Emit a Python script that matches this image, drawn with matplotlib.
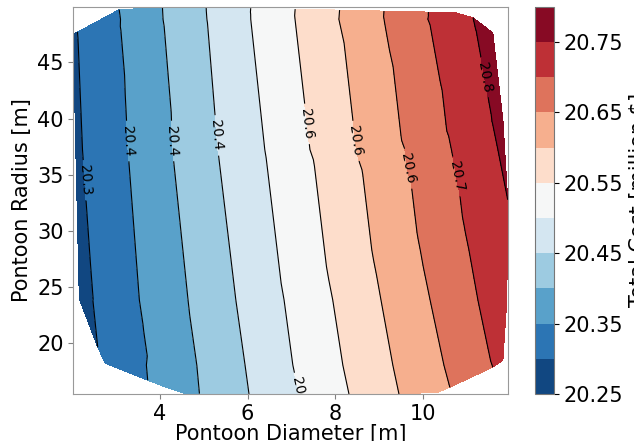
import numpy as np
import matplotlib
matplotlib.use("Agg")
import matplotlib.pyplot as plt
import matplotlib.tri as mtri

# ---- data (scattered design samples) ----
# Contour levels of the filled plot
levels = [20.25, 20.30, 20.35, 20.40, 20.45, 20.50, 20.55, 20.60, 20.65, 20.70, 20.75, 20.80]
cbar_ticks = [20.25, 20.35, 20.45, 20.55, 20.65, 20.75]

# Boundary samples (pontoon diameter, pontoon radius, total cost)
hull_x = [2.023, 3.07, 4.59, 10.73, 11.14, 11.59, 11.82, 11.93, 11.91, 11.82, 11.59,
          10.61, 10.34, 9.45, 8.31, 7.17, 6.03, 4.90, 4.55, 4.14, 3.72, 2.75, 2.58, 2.16, 2.08]
hull_y = [47.5, 49.70, 49.96, 49.43, 48.97, 47.63, 39.91, 32.77, 23.84, 18.48, 17.86,
          16.07, 15.63, 15.47, 15.47, 15.47, 15.47, 15.50, 15.54, 16.07, 16.70, 18.21, 19.64, 23.93, 37.23]
hull_z = [20.295, 20.35, 20.427, 20.73, 20.75, 20.768, 20.762, 20.75, 20.73, 20.713, 20.70,
          20.65, 20.64, 20.60, 20.55, 20.50, 20.45, 20.40, 20.385, 20.368, 20.35, 20.308, 20.30, 20.285, 20.293]

# Interior samples, row near the top (radius 48.8 m)
top_x = [3.10, 4.07, 5.07, 6.07, 7.08, 8.08, 9.11, 10.11]
top_y = [48.84] * 8
top_z = [20.35, 20.40, 20.45, 20.50, 20.55, 20.60, 20.65, 20.70]

# Interior samples, radius 37.2 m
upper_x = [2.233, 3.27, 4.285, 5.32, 6.39, 7.42, 8.48, 9.586, 10.646, 11.706]
upper_y = [37.23] * 10
upper_z = [20.30, 20.35, 20.40, 20.45, 20.50, 20.55, 20.60, 20.65, 20.70, 20.75]

# Interior samples, radius 23.8 m
lower_x = [2.47, 3.53, 4.64, 5.73, 6.83, 7.94, 9.04, 10.16, 11.25]
lower_y = [23.84] * 9
lower_z = [20.30, 20.35, 20.40, 20.45, 20.50, 20.55, 20.60, 20.65, 20.70]

# Interior samples, radius 18.0 m
bottom_x = [3.69, 4.84, 5.94, 7.03, 8.17, 9.31, 10.475]
bottom_y = [18.04] * 7
bottom_z = [20.35, 20.40, 20.45, 20.50, 20.55, 20.60, 20.65]

# label anchor positions for the contour labels (layout)
label_pos = [(2.29, 34.5), (3.28, 38.0), (4.28, 38.0), (5.30, 38.5), (7.17, 15.6),
             (7.30, 39.5), (8.45, 38.0), (9.62, 35.5), (10.68, 34.8), (11.41, 43.7)]

# ---- assemble ----
x = np.array(hull_x + top_x + upper_x + lower_x + bottom_x)
y = np.array(hull_y + top_y + upper_y + lower_y + bottom_y)
z = np.array(hull_z + top_z + upper_z + lower_z + bottom_z)

tri = mtri.Triangulation(x, y)

fig = plt.figure(figsize=(6.34, 4.41), dpi=100)
ax = fig.add_axes([0.1156, 0.1066, 0.6852, 0.8782])
cax = fig.add_axes([0.8438, 0.1066, 0.030, 0.8782])

cf = ax.tricontourf(tri, z, levels=levels, cmap="RdBu_r")
cs = ax.tricontour(tri, z, levels=levels, colors="black", linewidths=0.8)
ax.clabel(cs, inline=True, fontsize=10, fmt="%1.1f", manual=label_pos)

ax.set_xlabel("Pontoon Diameter [m]", fontsize=15, labelpad=0)
ax.set_ylabel("Pontoon Radius [m]", fontsize=15)
ax.tick_params(labelsize=15, color="gray")
for s in ax.spines.values():
    s.set_color("#999999")

cb = fig.colorbar(cf, cax=cax, ticks=cbar_ticks)
cb.ax.tick_params(labelsize=15)
cb.ax.set_yticklabels([f"{t:.2f}" for t in cbar_ticks])
cb.set_label("Total Cost [million $]", fontsize=15)
cb.outline.set_edgecolor("#777777")

fig.savefig("out.png", dpi=100)
